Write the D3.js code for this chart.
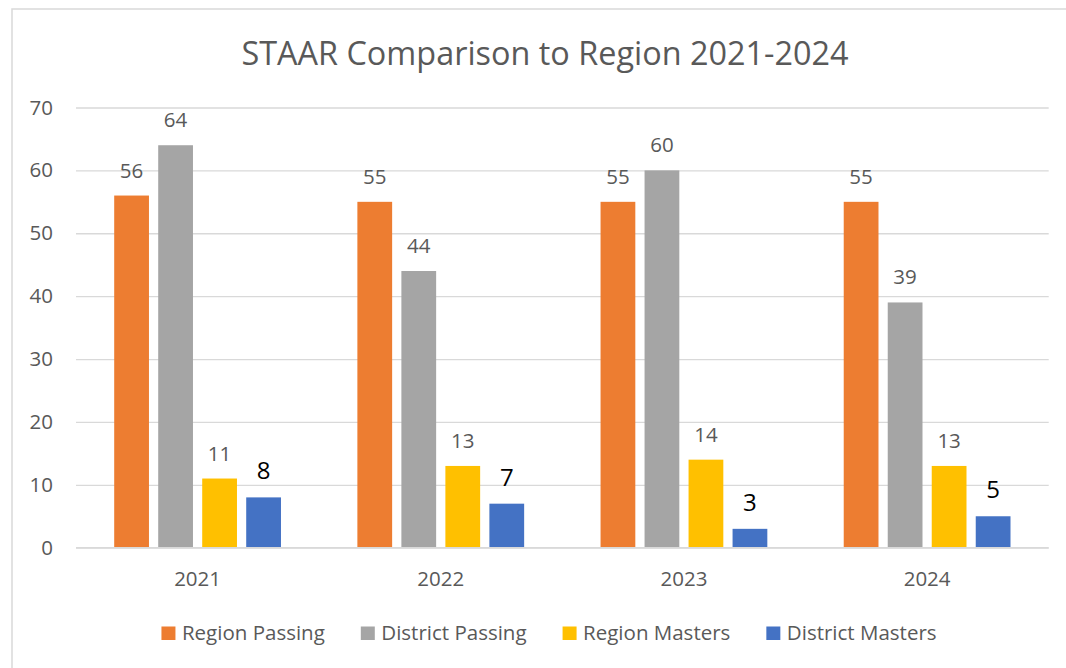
<!DOCTYPE html>
<html>
<head>
<meta charset="utf-8">
<script src="https://cdn.jsdelivr.net/npm/d3@7"></script>
<style>
  html, body { margin: 0; padding: 0; background: #fff; }
  text { font-family: "Open Sans", "Noto Sans", sans-serif; }
</style>
</head>
<body>
<div id="chart"></div>
<script>
const years = ['2021', '2022', '2023', '2024']
const seriesNames = ['Region Passing', 'District Passing', 'Region Masters', 'District Masters']
const regionPassing   = [56, 55, 55, 55]
const districtPassing = [64, 44, 60, 39]
const regionMasters   = [11, 13, 14, 13]
const districtMasters = [8, 7, 3, 5]
const seriesColors = ['#ED7D31', '#A5A5A5', '#FFC000', '#4472C4']
const yTicks = [0, 10, 20, 30, 40, 50, 60, 70]

const W = 1066, H = 668
const PLOT = { left: 76, right: 1048.7, top: 107.5, bottom: 547.7 }
const TEXT = '#595959'
const FS = '20.5px'

const seriesValues = [regionPassing, districtPassing, regionMasters, districtMasters]

const svg = d3.select('#chart').append('svg')
  .attr('width', W)
  .attr('height', H)

// outer chart frame (runs off the right and bottom edge)
svg.append('rect')
  .attr('x', 12).attr('y', 9)
  .attr('width', W + 20).attr('height', H + 20)
  .attr('fill', '#fff')
  .attr('stroke', '#d9d9d9')
  .attr('stroke-width', 1.5)

svg.append('text')
  .attr('x', 545).attr('y', 65)
  .attr('text-anchor', 'middle')
  .attr('fill', TEXT)
  .style('font-size', '32.4px')
  .text('STAAR Comparison to Region 2021-2024')

const x0 = d3.scaleBand().domain(years).range([PLOT.left, PLOT.right])
const groupPad = 38.2
const x1 = d3.scaleBand().domain(seriesNames)
  .range([groupPad, x0.bandwidth() - groupPad])
  .paddingInner(0.21)
const y = d3.scaleLinear().domain([0, 70]).range([PLOT.bottom, PLOT.top])

// ── gridlines + y labels ─────────────────────────────────────
const yAxis = svg.append('g').attr('class', 'y-axis')
  .attr('transform', `translate(${PLOT.left},0)`)
  .call(d3.axisLeft(y).tickValues(yTicks).tickSize(-(PLOT.right - PLOT.left)).tickPadding(23))
yAxis.select('.domain').remove()
yAxis.selectAll('line').attr('stroke', '#d9d9d9').attr('stroke-width', 1.3)
yAxis.selectAll('text').attr('fill', TEXT).style('font-size', FS)
  .style('font-family', '"Open Sans", "Noto Sans", sans-serif')

// ── bars ─────────────────────────────────────────────────────
const groups = svg.append('g').selectAll('g.year')
  .data(years)
  .join('g')
  .attr('class', 'year')
  .attr('transform', d => `translate(${x0(d)},0)`)

const cells = groups.selectAll('g.bar')
  .data((yr, i) => seriesNames.map((s, si) => ({ series: s, si, value: seriesValues[si][i] })))
  .join('g').attr('class', 'bar')

cells.append('rect')
  .attr('x', d => x1(d.series))
  .attr('y', d => y(d.value))
  .attr('width', x1.bandwidth())
  .attr('height', d => y(0) - y(d.value))
  .attr('fill', d => seriesColors[d.si])

cells.append('text')
  .attr('x', d => x1(d.series) + x1.bandwidth() / 2)
  .attr('y', d => y(d.value) - 18)
  .attr('text-anchor', 'middle')
  .attr('fill', d => d.si === 3 ? '#000' : TEXT)
  .style('font-size', d => d.si === 3 ? '24px' : FS)
  .text(d => d.value)

// baseline
svg.append('line')
  .attr('x1', PLOT.left).attr('x2', PLOT.right)
  .attr('y1', y(0)).attr('y2', y(0))
  .attr('stroke', '#d9d9d9').attr('stroke-width', 1.5)

// ── x labels ─────────────────────────────────────────────────
svg.append('g').selectAll('text')
  .data(years)
  .join('text')
  .attr('x', d => x0(d) + x0.bandwidth() / 2)
  .attr('y', 586)
  .attr('text-anchor', 'middle')
  .attr('fill', TEXT)
  .style('font-size', FS)
  .text(d => d)

// ── legend ───────────────────────────────────────────────────
const legend = svg.append('g').attr('class', 'legend')
let lx = 0
seriesNames.forEach((name, i) => {
  const g = legend.append('g')
  g.append('rect').attr('x', 0).attr('y', 626.5).attr('width', 14).attr('height', 13.5)
    .attr('fill', seriesColors[i])
  const t = g.append('text').attr('x', 20.5).attr('y', 640)
    .attr('fill', TEXT).style('font-size', FS).text(name)
  const w = 20.5 + t.node().getComputedTextLength()
  g.attr('transform', `translate(${lx},0)`)
  lx += w + 36
})
const legendWidth = lx - 36
legend.attr('transform', `translate(${549 - legendWidth / 2},0)`)
</script>
</body>
</html>
